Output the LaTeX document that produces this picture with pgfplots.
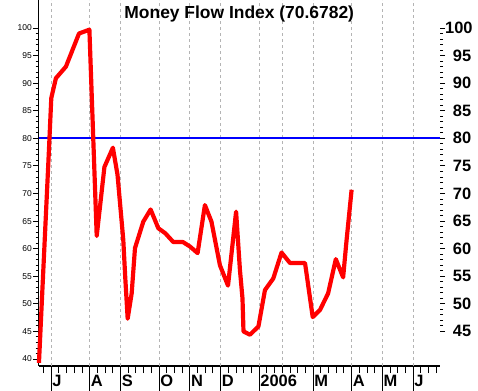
\documentclass[border=0pt]{standalone}
\usepackage{pgfplots}
\pgfplotsset{compat=1.18}
\usepackage{fontspec}
\setmainfont{Liberation Sans}
\definecolor{gridgray}{HTML}{B4B4B4}
\pgfplotstableread{
w v
-1.6 39.3
-0.3 78
0 87.3
0.6 90.9
1.9 93
3.6 99.0
4.95 99.7
5.9 62.3
6.9 74.8
8.0 78.3
8.6 73.4
9.35 61.6
9.6 54.9
9.92 47.3
10.44 51.9
10.87 60.1
11.95 64.9
12.9 67.1
13.9 63.7
14.8 62.8
15.85 61.2
17.1 61.2
18.0 60.4
19.0 59.2
19.95 67.9
20.8 64.9
21.9 57.0
22.95 53.3
24.0 66.7
24.5 56.1
24.83 51.0
24.96 45.0
25.8 44.4
26.9 45.9
27.75 52.5
28.83 54.6
29.9 59.3
31.0 57.4
32.95 57.4
33.95 47.6
34.9 48.9
35.95 51.9
36.95 58.1
37.9 54.8
38.35 61.6
39.0 70.68
}\mfi
\pgfplotsset{
  common/.style={
    at={(0,0)}, anchor=south west,
    width=401.5bp, height=366bp, scale only axis,
    xmin=-1.66, xmax=50.48, ymin=38.73, ymax=105.08,
    clip=false,
    /pgf/number format/assume math mode=true,
  }
}
\begin{document}
\begin{tikzpicture}
\useasboundingbox (-38.5bp,-25bp) rectangle (439.5bp,366bp);
% x axis, grid, title
\begin{axis}[common,
  axis x line=bottom, axis y line=none,
  axis line style={-, line width=1.3pt},
  tick align=outside,
  xtick={0,5,9,14,18,22,27,34,39,43,47},
  xticklabels={J,A,S,O,N,D,2006,M,A,M,J},
  minor xtick={-1,0,...,50},
  extra x ticks={0,5,9,14,18,22,27,30,34,39,43,47},
  extra x tick labels={},
  extra x tick style={grid=major, major tick length=0pt, major grid style={gridgray, dash pattern=on 3bp off 3bp, line width=0.8pt}},
  major tick length=25bp, minor tick length=7bp,
  tick style={black, line width=1pt},
  xticklabel style={anchor=north west, inner sep=0pt, xshift=1bp, yshift=16bp, font=\bfseries\fontsize{16.5}{18}\selectfont},
]
\node[anchor=north, inner sep=0pt, font=\bfseries\fontsize{17.5}{19}\selectfont] at (rel axis cs:0.5,1) [yshift=-5.5bp] {Money Flow Index (70.6782)};
\end{axis}
% left y axis with data
\begin{axis}[common,
  axis x line=none, axis y line=left,
  axis line style={-, line width=1.3pt},
  tick align=outside,
  ytick={40,45,...,100},
  minor y tick num=4,
  major tick length=5.5bp, minor tick length=3bp,
  tick style={black, line width=0.9pt},
  yticklabel style={font=\fontsize{8.5}{10}\selectfont, inner sep=1pt},
]
\addplot[blue, line width=2.2pt, forget plot] coordinates {(-1.66,80) (50.48,80)};
\addplot[red, line width=4.2pt, line join=round] table[x=w, y=v] {\mfi};
\end{axis}
% right y axis
\begin{axis}[common,
  axis x line=none, axis y line=right,
  axis line style={draw=none},
  tick align=outside,
  ytick={45,50,...,100},
  minor y tick num=4,
  major tick length=5bp, minor tick length=3bp,
  tick style={black, line width=0.9pt},
  yticklabel style={font=\bfseries\fontsize{16.5}{18}\selectfont, inner sep=0pt, text width=26bp, align=right, anchor=west},
]
\end{axis}
\end{tikzpicture}
\end{document}
